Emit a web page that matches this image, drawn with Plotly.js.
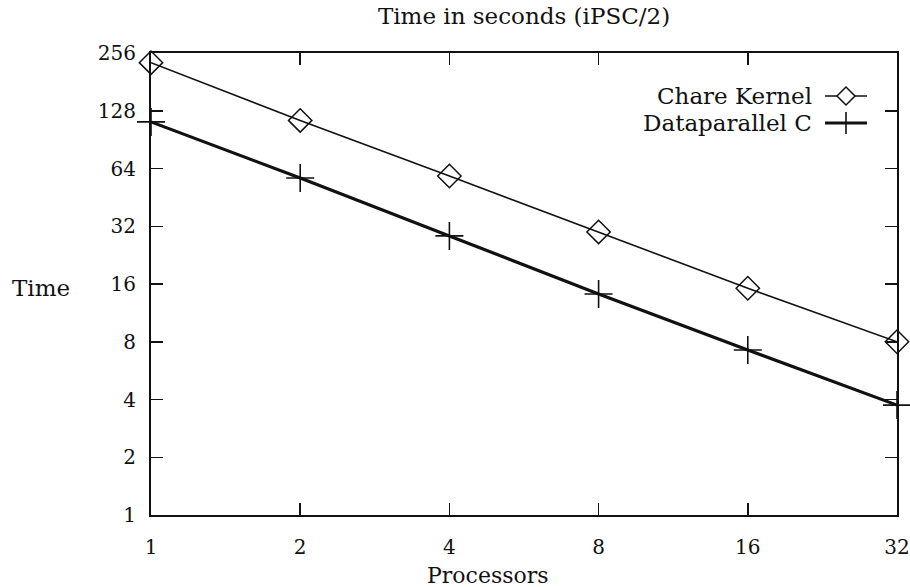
<!DOCTYPE html>
<html>
<head>
<meta charset="utf-8">
<script src="https://cdn.plot.ly/plotly-3.0.1.min.js"></script>
<style>html,body{margin:0;padding:0;background:#fff;}#chart{width:910px;height:587px;}</style>
</head>
<body>
<div id="chart"></div>
<script>
const processors = [1, 2, 4, 8, 16, 32];
const chareKernel = [228, 114, 58.5, 29.9, 15.2, 8.0];
const dataparallelC = [112, 57.1, 28.5, 14.2, 7.25, 3.74];
const xTicks = [1, 2, 4, 8, 16, 32];
const yTicks = [1, 2, 4, 8, 16, 32, 64, 128, 256];
const seriesNames = ['Chare Kernel', 'Dataparallel C'];

const FONT = 'DejaVu Serif, Liberation Serif, serif';
const INK = '#111111';

const traces = [
  {
    x: processors, y: chareKernel, name: seriesNames[0], type: 'scatter', mode: 'lines+markers',
    line: {color: INK, width: 1.6},
    marker: {symbol: 'diamond-open', size: 18, color: INK, line: {width: 1.5, color: INK}},
    cliponaxis: false, showlegend: false
  },
  {
    x: processors, y: dataparallelC, name: seriesNames[1], type: 'scatter', mode: 'lines+markers',
    line: {color: INK, width: 3.2},
    marker: {symbol: 'cross-thin-open', size: 20, color: INK, line: {width: 1.6, color: INK}},
    cliponaxis: false, showlegend: false
  }
];

const W = 746, H = 462;
const px = v => v / W, py = v => v / H;
const lx0 = px(825 - 151), lx1 = px(867 - 151), lxm = px(846 - 151);
const ly1 = py(515 - 96), ly2 = py(515 - 123);
const dx = px(9), dy = py(9);

const axisCommon = {
  type: 'log', showgrid: false, zeroline: false,
  showline: true, linecolor: INK, linewidth: 2, mirror: 'allticks',
  ticks: 'inside', ticklen: 12, tickwidth: 1.5, tickcolor: INK,
  tickfont: {family: FONT, size: 20, color: INK},
  tickmode: 'array'
};

const layout = {
  width: 910, height: 587,
  margin: {l: 151, r: 13, t: 53, b: 72},
  paper_bgcolor: '#ffffff', plot_bgcolor: '#ffffff',
  font: {family: FONT, color: INK},
  title: {text: 'Time in seconds (iPSC/2)', font: {family: FONT, size: 23, color: INK},
          xref: 'paper', x: 0.5, xanchor: 'center', yref: 'container', y: 1 - 16/587, yanchor: 'middle'},
  xaxis: Object.assign({}, axisCommon, {
    range: [0, Math.log10(32)], tickvals: xTicks, ticktext: xTicks.map(String), ticklabelstandoff: 13
  }),
  yaxis: Object.assign({}, axisCommon, {
    range: [0, Math.log10(256)], tickvals: yTicks, ticktext: yTicks.map(String), ticklabelstandoff: 9
  }),
  showlegend: false,
  annotations: [
    {text: 'Processors', xref: 'paper', yref: 'paper', x: px(488 - 151), y: py(515 - 575),
     xanchor: 'center', yanchor: 'middle', showarrow: false, font: {family: FONT, size: 22, color: INK}},
    {text: 'Time', xref: 'paper', yref: 'paper', x: px(41 - 151), y: py(515 - 288),
     xanchor: 'center', yanchor: 'middle', showarrow: false, font: {family: FONT, size: 23, color: INK}},
    {text: seriesNames[0], xref: 'paper', yref: 'paper', x: px(814 - 151), y: ly1,
     xanchor: 'right', yanchor: 'middle', showarrow: false, font: {family: FONT, size: 23, color: INK}},
    {text: seriesNames[1], xref: 'paper', yref: 'paper', x: px(814 - 151), y: ly2,
     xanchor: 'right', yanchor: 'middle', showarrow: false, font: {family: FONT, size: 23, color: INK}}
  ],
  shapes: [
    {type: 'line', xref: 'paper', yref: 'paper', x0: lx0, x1: lx1, y0: ly1, y1: ly1, line: {color: INK, width: 1.6}},
    {type: 'path', xref: 'paper', yref: 'paper',
     path: `M ${lxm - dx} ${ly1} L ${lxm} ${ly1 + dy} L ${lxm + dx} ${ly1} L ${lxm} ${ly1 - dy} Z`,
     fillcolor: '#ffffff', line: {color: INK, width: 1.5}},
    {type: 'line', xref: 'paper', yref: 'paper', x0: lx0, x1: lx1, y0: ly2, y1: ly2, line: {color: INK, width: 3.2}},
    {type: 'line', xref: 'paper', yref: 'paper', x0: lxm, x1: lxm, y0: ly2 - py(11), y1: ly2 + py(11), line: {color: INK, width: 1.6}}
  ]
};

Plotly.newPlot('chart', traces, layout, {displayModeBar: false, staticPlot: true});
</script>
</body>
</html>
